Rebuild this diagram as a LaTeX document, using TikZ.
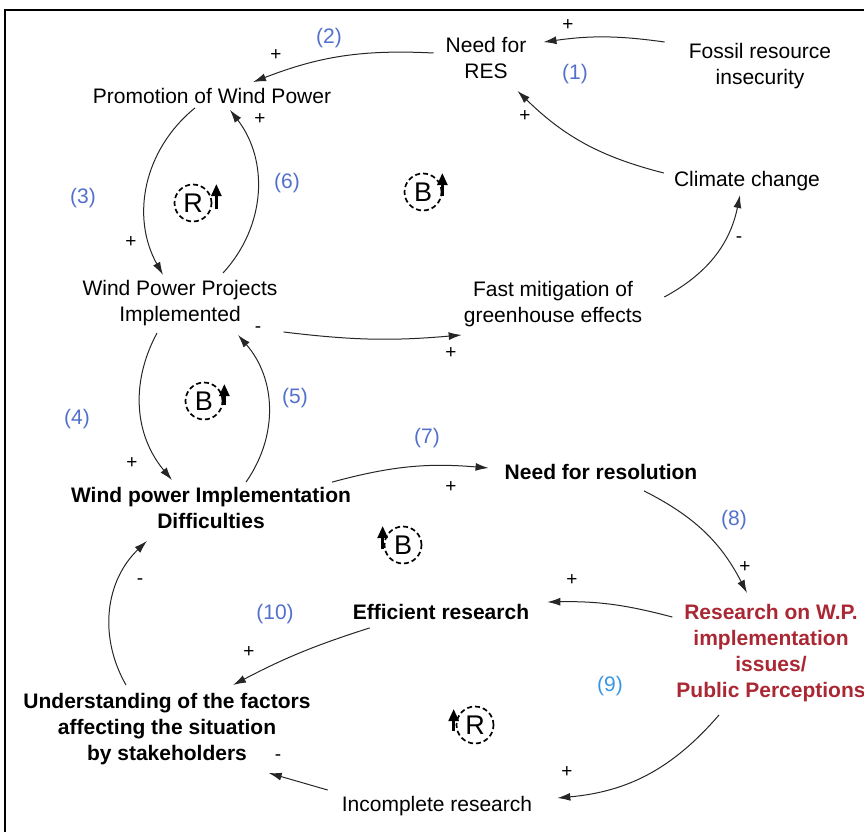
\documentclass[tikz,border=0pt]{standalone}
\usepackage{fontspec}
\setmainfont{Liberation Sans}
\usetikzlibrary{arrows.meta}
\definecolor{numblue}{RGB}{82,112,204}
\definecolor{numcyan}{RGB}{55,150,230}
\definecolor{resred}{RGB}{170,40,52}
\begin{document}
\begin{tikzpicture}[x=1pt,y=-1pt]
            \tikzset{var/.style = {font=\fontsize{21}{26}\selectfont, align=center, inner sep=2pt}}
            \tikzset{keyvar/.style = {var, font=\fontsize{21}{26}\selectfont\bfseries}}
            \tikzset{link/.style = {-{Latex[length=13pt,width=8pt]}, line width=1pt, draw=black!85}}
            \tikzset{sign/.style = {font=\fontsize{19}{19}\selectfont, inner sep=0pt}}
            \tikzset{num/.style = {font=\fontsize{21}{21}\selectfont, text=numblue, inner sep=0pt}}
            \tikzset{loopsym/.style = {circle, draw, dash pattern=on 5pt off 3pt, line width=1.7pt, minimum size=37pt, inner sep=0pt, font=\fontsize{27}{27}\selectfont}}
            \tikzset{loopup/.style = {-{Triangle[length=12pt,width=10pt]}, line width=2.6pt}}
            \useasboundingbox (0,0) rectangle (864,832);
            \draw[line width=2pt] (5,832) -- (5,10) -- (864,10);
            % variables
            \node[var] (res) at (486,58) {Need for\\RES};
            \node[var] (fossil) at (760,66) {Fossil resource\\insecurity};
            \node[var] (climate) at (747,181) {Climate change};
            \node[var] (prom) at (212,96) {Promotion of Wind Power};
            \node[var] (wppi) at (180,303) {Wind Power Projects\\Implemented};
            \node[var] (fast) at (553,304) {Fast mitigation of\\greenhouse effects};
            \node[keyvar] (wpid) at (211,508) {Wind power Implementation\\Difficulties};
            \node[keyvar] (needres) at (601,472) {Need for resolution};
            \node[keyvar, text=resred] (research) at (771,653) {Research on W.P.\\implementation\\issues/\\Public Perceptions};
            \node[keyvar] (effic) at (441,612) {Efficient research};
            \node[keyvar] (underst) at (167,729) {Understanding of the factors\\affecting the situation\\by stakeholders};
            \node[var] (incompl) at (437,806) {Incomplete research};
            % links
            \draw[link] ([shift={(-22,1)}]fossil.north west) to[bend right=8] ([shift={(15,7)}]res.north east);
            \draw[link] ([shift={(-8,4)}]climate.north west) to[bend left=15] ([shift={(-11,10)}]res.south east);
            \draw[link] ([shift={(-10,-5)}]res.west) to[bend right=12] ([shift={(41,-4)}]prom.north);
            \draw[link] ([shift={(-17,2)}]prom.south) to[bend right=40] ([shift={(-17,-3)}]wppi.north);
            \draw[link] ([shift={(43,-5)}]wppi.north) to[bend right=40] ([shift={(18,4)}]prom.south);
            \draw[link] ([shift={(20,-7)}]fast.east) to[bend right=25] ([shift={(-7,2)}]climate.south);
            \draw[link] ([shift={(4,4)}]wppi.south east) to[bend right=6] ([shift={(0,6)}]fast.south west);
            \draw[link] ([shift={(-23,5)}]wppi.south) to[bend right=34] ([shift={(-39,-5)}]wpid.north);
            \draw[link] ([shift={(35,-3)}]wpid.north) to[bend right=38] ([shift={(58,7)}]wppi.south);
            \draw[link] ([shift={(-21,-3)}]wpid.north east) to[bend left=10] ([shift={(-14,-4)}]needres.west);
            \draw[link] ([shift={(43,9)}]needres.south) to[bend left=18] ([shift={(-24,-9)}]research.north);
            \draw[link] ([shift={(-2,15)}]research.north west) to[bend right=8] ([shift={(16,-10)}]effic.east);
            \draw[link] ([shift={(19,6)}]effic.south west) to[bend right=5] ([shift={(66,-6)}]underst.north);
            \draw[link] ([shift={(-41,-6)}]underst.north) to[bend left=38] ([shift={(-64,10)}]wpid.south);
            \draw[link] ([shift={(-52,11)}]research.south) to[bend left=22] ([shift={(23,-8)}]incompl.east);
            \draw[link] ([shift={(-12,-4)}]incompl.north west) -- ([shift={(-44,6)}]underst.south east);
            % polarities
            \node[sign] (p1) at (568,25) {+};
            \node[sign] (p2) at (525,116) {+};
            \node[sign] (p3) at (276,55) {+};
            \node[sign] (p4) at (131,242) {+};
            \node[sign] (p5) at (260,119) {+};
            \node[sign] (p6) at (739,240) {-};
            \node[sign] (p7) at (451,353) {+};
            \node[sign] (p8) at (132,463) {+};
            \node[sign] (p9) at (258,330) {-};
            \node[sign] (p10) at (451,487) {+};
            \node[sign] (p11) at (745,567) {+};
            \node[sign] (p12) at (572,580) {+};
            \node[sign] (p13) at (249,652) {+};
            \node[sign] (p14) at (140,582) {-};
            \node[sign] (p15) at (567,772) {+};
            \node[sign] (p16) at (278,758) {-};
            % link numbers
            \node[num] (n1) at (575,74) {(1)};
            \node[num] (n2) at (329,38) {(2)};
            \node[num] (n3) at (83,198) {(3)};
            \node[num] (n4) at (77,419) {(4)};
            \node[num] (n5) at (295,398) {(5)};
            \node[num] (n6) at (287,183) {(6)};
            \node[num] (n7) at (427,438) {(7)};
            \node[num] (n8) at (734,520) {(8)};
            \node[num, text=numcyan] (n9) at (610,686) {(9)};
            \node[num] (n10) at (275,614) {(10)};
            % loops
            \node[loopsym] (loopR1) at (193,203) {R};
            \draw[loopup] ([shift={(4,6)}]loopR1.east) -- ++(0,-25);
            \node[loopsym] (loopB1) at (423,192) {B};
            \draw[loopup] ([shift={(0,4)}]loopB1.east) -- ++(0,-23);
            \node[loopsym] (loopB2) at (204,401) {B};
            \draw[loopup] ([shift={(1,4)}]loopB2.east) -- ++(0,-21);
            \node[loopsym] (loopB3) at (403,545) {B};
            \draw[loopup] ([shift={(-1,4)}]loopB3.west) -- ++(0,-23);
            \node[loopsym] (loopR2) at (475,725) {R};
            \draw[loopup] ([shift={(-2,6)}]loopR2.west) -- ++(0,-22);
\end{tikzpicture}
\end{document}
